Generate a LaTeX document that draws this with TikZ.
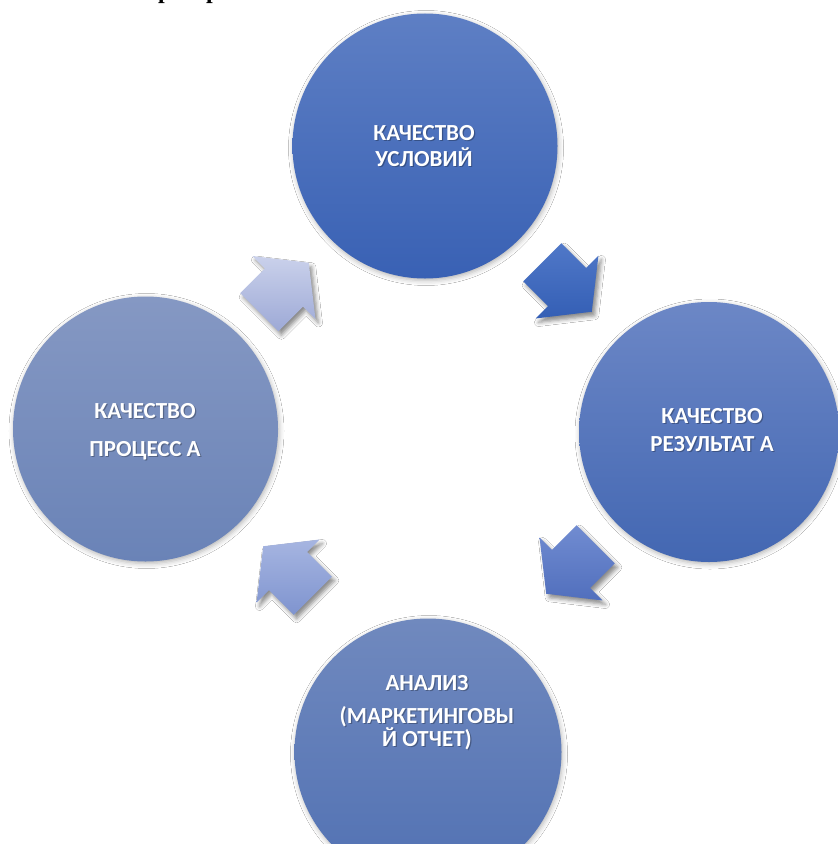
\documentclass[tikz,border=0pt]{standalone}
\usepackage{fontspec}
\setmainfont{Carlito}
\newfontfamily\hdrfont{Liberation Serif}
\usetikzlibrary{calc,shadows.blur}
\definecolor{cTopA}{HTML}{5E7FC4}
\definecolor{cTopB}{HTML}{3961B4}
\definecolor{cRightA}{HTML}{6C87C6}
\definecolor{cRightB}{HTML}{4367B2}
\definecolor{cLeftA}{HTML}{8598C3}
\definecolor{cLeftB}{HTML}{6A83B7}
\definecolor{cBotA}{HTML}{7089BE}
\definecolor{cBotB}{HTML}{5171B3}
\definecolor{aOneA}{HTML}{CAD1EB}
\definecolor{aOneB}{HTML}{9DA9D6}
\definecolor{aTwoA}{HTML}{5078C8}
\definecolor{aTwoB}{HTML}{345FB5}
\definecolor{aThreeA}{HTML}{718CD1}
\definecolor{aThreeB}{HTML}{516FBD}
\definecolor{aFourA}{HTML}{A6B5E1}
\definecolor{aFourB}{HTML}{7F94CF}
\newcommand\shlabel[3]{%
  \node[lbl, text=black, opacity=0.28] (#1s) at ($(#2)+(1.2,1.6)$) {#3};
  \node[lbl] (#1) at (#2) {#3};}
\begin{document}
\begin{tikzpicture}[x=1bp,y=-1bp,
  circ/.style={circle, minimum size=265bp, inner sep=0pt,
    blur shadow={shadow xshift=1bp, shadow yshift=-2bp, shadow blur radius=5bp, shadow opacity=30}},
  lbl/.style={text=white, font=\fontsize{23bp}{23bp}\selectfont\bfseries, anchor=base, inner sep=0pt},
  blockarr/.style={blur shadow={shadow xshift=3bp, shadow yshift=-4bp, shadow blur radius=4bp, shadow opacity=45}}
]
\path[use as bounding box] (0,0) rectangle (838,844);
\clip (0,0) rectangle (838,844);
\fill[white] (0,0) rectangle (838,844);

% cut-off heading fragment at the very top
\node[anchor=base west, inner sep=0pt, font=\hdrfont\fontsize{24bp}{24bp}\selectfont\bfseries] (hdrA) at (158,-1) {р};
\node[anchor=base west, inner sep=0pt, font=\hdrfont\fontsize{24bp}{24bp}\selectfont\bfseries] (hdrB) at (206,-1) {р};

% circles
\node[circ, top color=cTopA, bottom color=cTopB] (top) at (425,146) {};
\node[circ, top color=cRightA, bottom color=cRightB, minimum size=260bp] (right) at (709,432) {};
\node[circ, top color=cLeftA, bottom color=cLeftB] (left) at (145.5,429) {};
\node[circ, top color=cBotA, bottom color=cBotB, minimum size=267bp] (bottom) at (428,752) {};

% labels
\shlabel{t1}{424,140}{КАЧЕСТВО}
\shlabel{t2}{424,166}{УСЛОВИЙ}
\shlabel{r1}{712,423}{КАЧЕСТВО}
\shlabel{r2}{712,451}{РЕЗУЛЬТАТ А}
\shlabel{l1}{145,418}{КАЧЕСТВО}
\shlabel{l2}{145,456}{ПРОЦЕСС А}
\shlabel{b1}{427,690}{АНАЛИЗ}
\shlabel{b2}{427,723}{(МАРКЕТИНГОВЫ}
\shlabel{b3}{427,746}{Й ОТЧЕТ)}

% arrow centres
\coordinate (a1) at (284,287.5);
\coordinate (a2) at (567,287);
\coordinate (a3) at (571,569);
\coordinate (a4) at (288,571);

% block arrows of the cycle
\foreach \c/\th/\ca/\cb in {a1/-45/aOneA/aOneB, a2/45/aTwoA/aTwoB, a3/135/aThreeA/aThreeB, a4/-135/aFourA/aFourB}{
  \pgfmathsetmacro\tp{\th+90}
  \pgfmathsetmacro\tm{\th-90}
  \pgfmathsetmacro\tb{\th+180}
  \path[blockarr, top color=\ca, bottom color=\cb]
    ($(\c)+(\tb:35)+(\tp:27)$) -- ($(\c)+(\tp:27)$) -- ($(\c)+(\tp:44.5)$)
    -- ($(\c)+(\th:35)$) -- ($(\c)+(\tm:44.5)$) -- ($(\c)+(\tm:27)$)
    -- ($(\c)+(\tb:35)+(\tm:27)$) -- cycle;
}
\end{tikzpicture}
\end{document}
